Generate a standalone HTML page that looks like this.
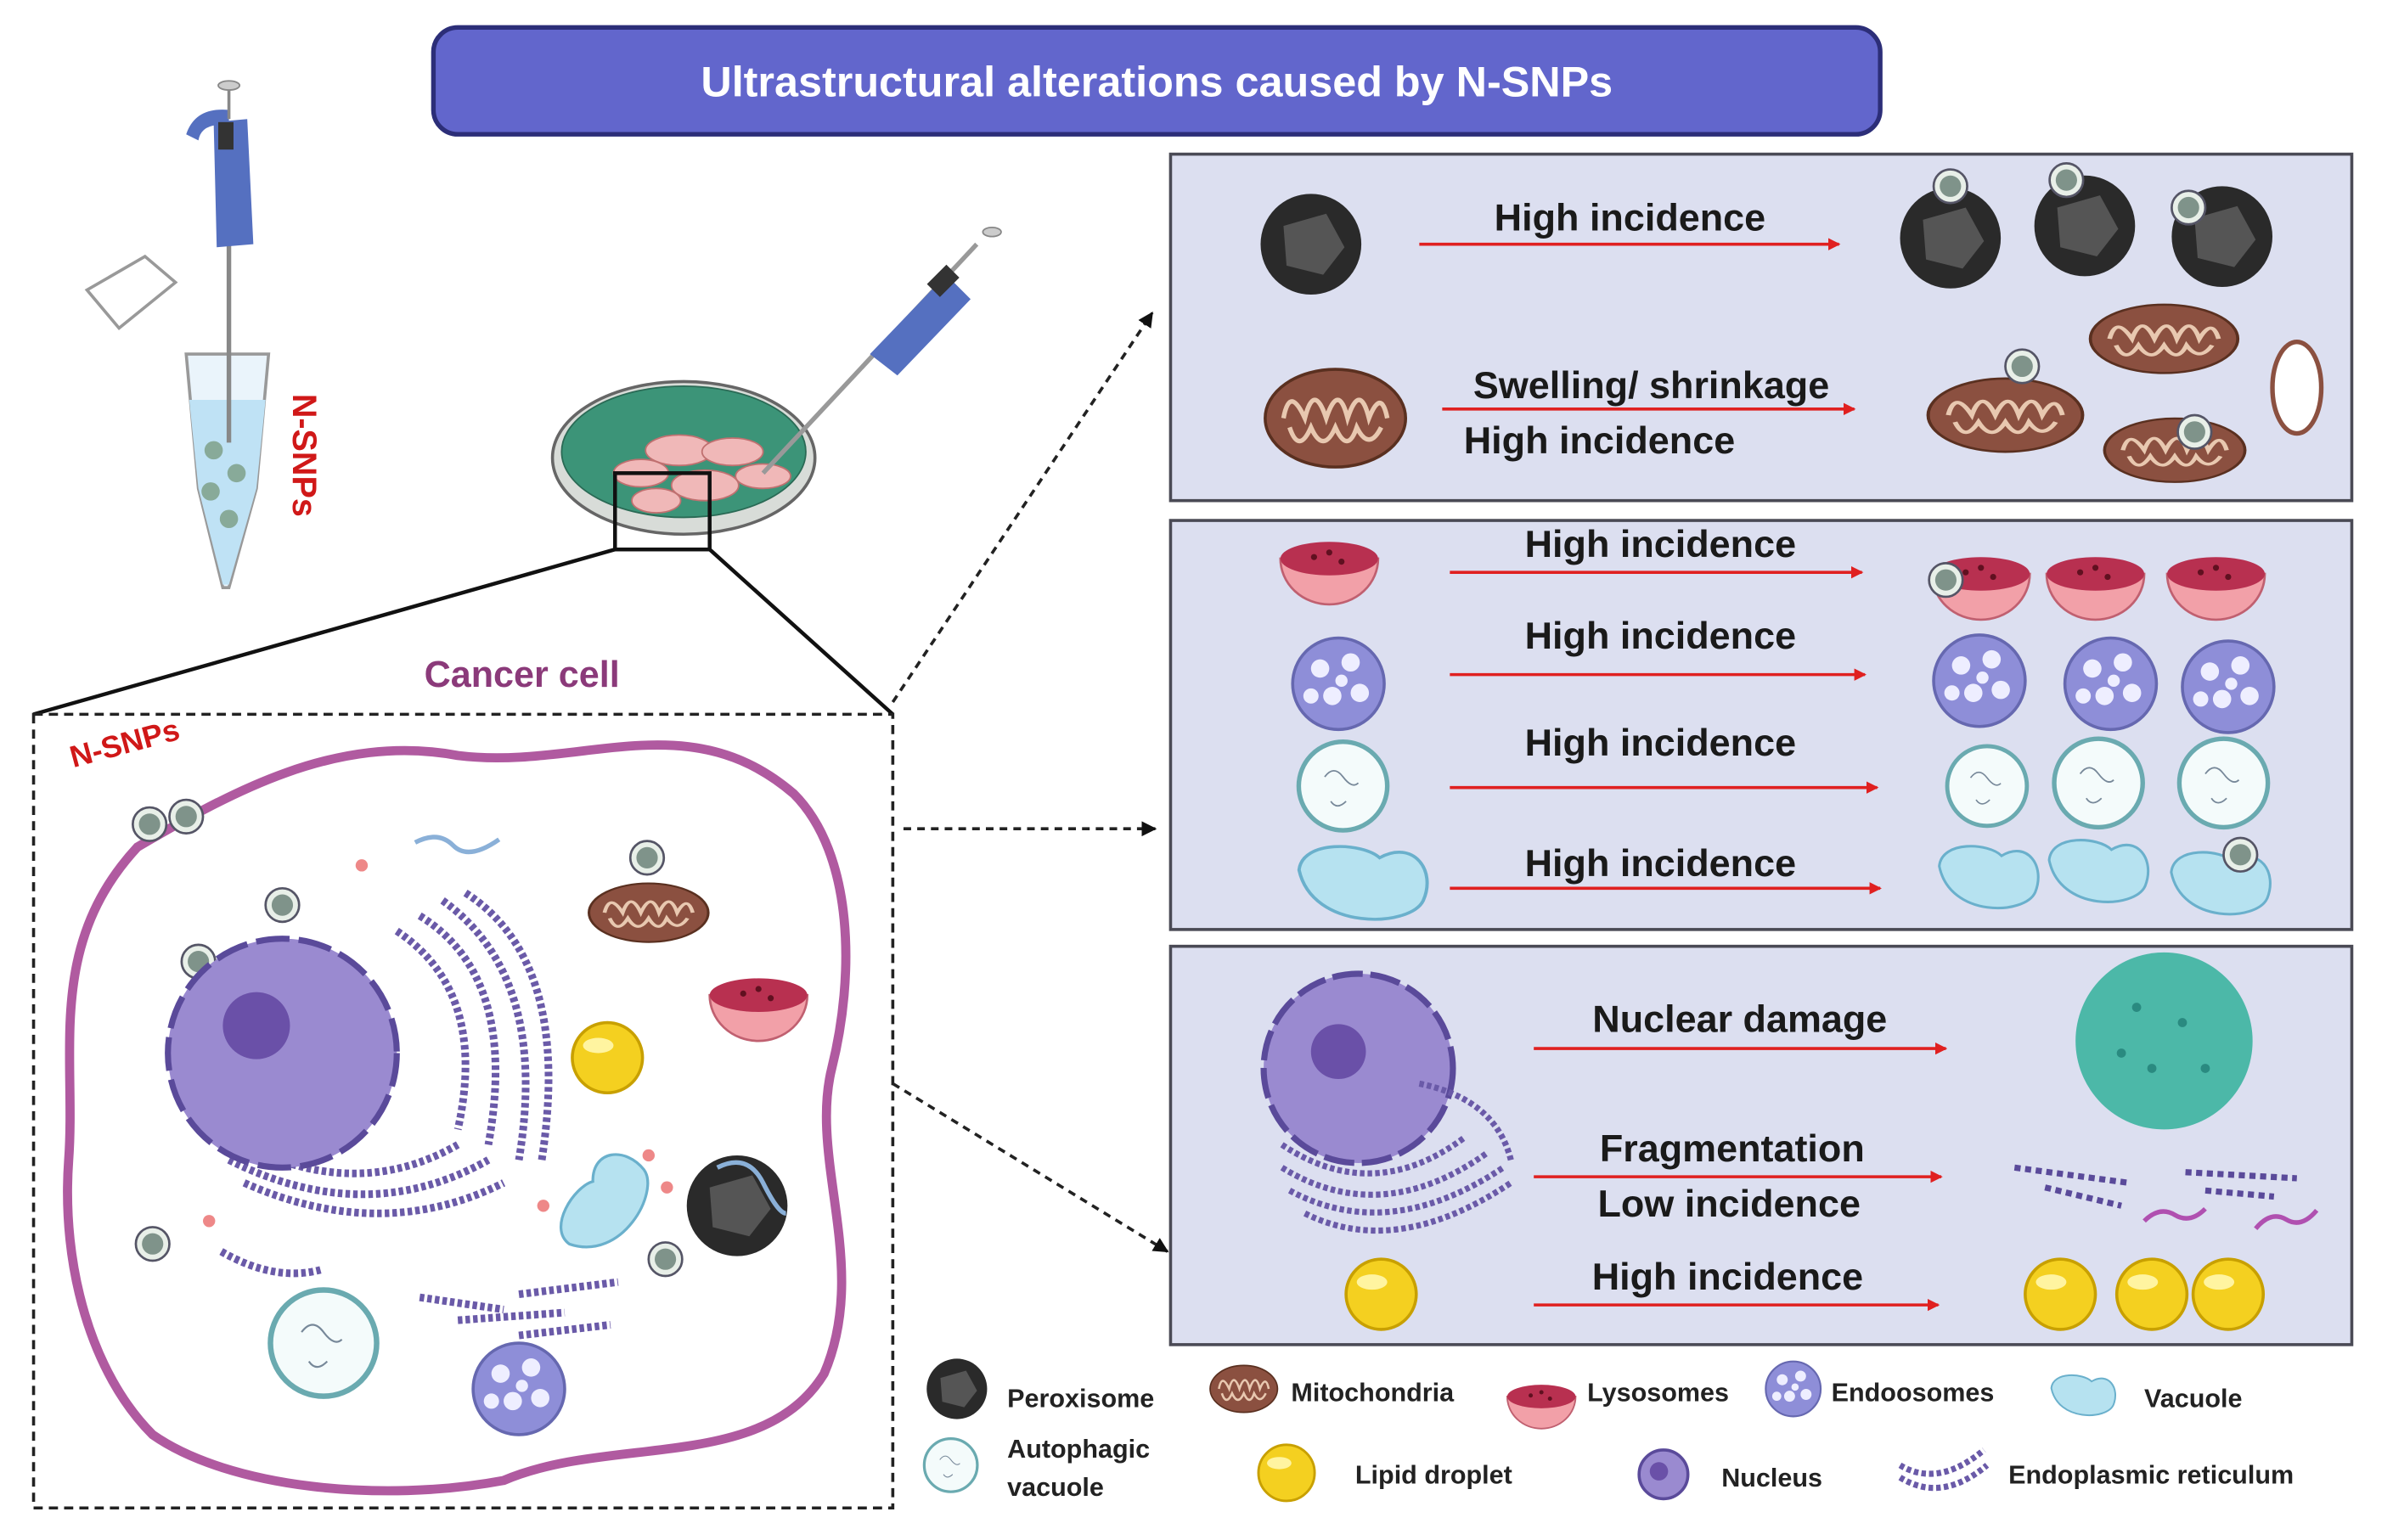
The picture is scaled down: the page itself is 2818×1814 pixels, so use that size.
<!DOCTYPE html>
<html><head><meta charset="utf-8"><style>
html,body{margin:0;padding:0;background:#fff;}
svg{display:block;}
text{font-family:"Liberation Sans",sans-serif;font-weight:bold;}
</style></head><body>
<svg width="2818" height="1814" viewBox="0 0 1568 1009" preserveAspectRatio="none" xmlns="http://www.w3.org/2000/svg">
<defs>
<marker id="ar" markerWidth="8" markerHeight="8" refX="7" refY="4" orient="auto" markerUnits="userSpaceOnUse"><path d="M0,0 L8,4 L0,8 z" fill="#e02020"/></marker>
<marker id="ak" markerWidth="10" markerHeight="10" refX="9" refY="5" orient="auto" markerUnits="userSpaceOnUse"><path d="M0,0 L10,5 L0,10 z" fill="#111"/></marker>
<g id="np"><circle r="11" fill="#e8efe8" stroke="#556" stroke-width="1.5"/><circle r="7" fill="#7f938a"/></g>
<g id="per"><circle r="33" fill="#2a2a2a"/><path d="M-18,-12 L10,-20 L22,2 L8,20 L-16,14 z" fill="#555"/></g>
<g id="mit"><ellipse rx="46" ry="32" fill="#8b5040" stroke="#5a3020" stroke-width="2"/><path d="M-34,0 Q-30,-22 -20,0 Q-14,-24 -6,0 Q2,-24 8,0 Q16,-24 22,0 Q30,-20 34,0 M-30,6 Q-24,24 -16,6 Q-8,24 0,6 Q8,24 14,6 Q22,22 30,6" fill="none" stroke="#e8c8b0" stroke-width="3"/></g>
<g id="lys"><path d="M-32,-10 A32,30 0 0 0 32,-10 z" fill="#f2a0a8" stroke="#c06070" stroke-width="1.5"/><ellipse cy="-10" rx="32" ry="11" fill="#b83050"/><circle cx="-10" cy="-11" r="2" fill="#601020"/><circle cx="8" cy="-8" r="2" fill="#601020"/><circle cx="0" cy="-14" r="2" fill="#601020"/></g>
<g id="end"><circle r="30" fill="#8e8ed8" stroke="#6668b0" stroke-width="2"/><circle cx="-12" cy="-10" r="6" fill="#eef"/><circle cx="8" cy="-14" r="6" fill="#eef"/><circle cx="14" cy="6" r="6" fill="#eef"/><circle cx="-4" cy="8" r="6" fill="#eef"/><circle cx="-18" cy="8" r="5" fill="#eef"/><circle cx="2" cy="-2" r="4" fill="#eef"/></g>
<g id="aut"><circle r="29" fill="#f4fbfb" stroke="#6aaab0" stroke-width="3"/><path d="M-12,-6 q6,-8 12,0 t10,4 M-8,10 q4,6 10,0" fill="none" stroke="#789" stroke-width="1"/></g>
<g id="vac"><path d="M-38,-10 C-36,-30 0,-28 10,-18 C30,-30 44,-10 36,10 C28,28 -30,30 -38,-10 z" fill="#b6e2f0" stroke="#6ab0cc" stroke-width="2"/></g>
<g id="lip"><circle r="23" fill="#f4d020" stroke="#c8a000" stroke-width="2"/><ellipse cx="-6" cy="-8" rx="10" ry="5" fill="#fff4a0"/></g>
</defs>

<rect x="284" y="18" width="948" height="70" rx="16" fill="#6266cc" stroke="#2c2e78" stroke-width="3"/>
<text x="758" y="63" font-size="28" fill="#fff" text-anchor="middle">Ultrastructural alterations caused by N-SNPs</text>

<rect x="767" y="101" width="774" height="227" fill="#dcdff0" stroke="#4a4a55" stroke-width="2"/>
<rect x="767" y="341" width="774" height="268" fill="#dcdff0" stroke="#4a4a55" stroke-width="2"/>
<rect x="767" y="620" width="774" height="261" fill="#dcdff0" stroke="#4a4a55" stroke-width="2"/>

<g font-size="25" fill="#1a1a1a" text-anchor="middle">
<text x="1068" y="151">High incidence</text>
<text x="1082" y="261">Swelling/ shrinkage</text>
<text x="1048" y="297">High incidence</text>
<text x="1088" y="365">High incidence</text>
<text x="1088" y="425">High incidence</text>
<text x="1088" y="495">High incidence</text>
<text x="1088" y="574">High incidence</text>
<text x="1140" y="676">Nuclear damage</text>
<text x="1135" y="761">Fragmentation</text>
<text x="1133" y="797">Low incidence</text>
<text x="1132" y="845">High incidence</text>
</g>
<g stroke="#e02020" stroke-width="2" marker-end="url(#ar)">
<line x1="930" y1="160" x2="1205" y2="160"/>
<line x1="945" y1="268" x2="1215" y2="268"/>
<line x1="950" y1="375" x2="1220" y2="375"/>
<line x1="950" y1="442" x2="1222" y2="442"/>
<line x1="950" y1="516" x2="1230" y2="516"/>
<line x1="950" y1="582" x2="1232" y2="582"/>
<line x1="1005" y1="687" x2="1275" y2="687"/>
<line x1="1005" y1="771" x2="1272" y2="771"/>
<line x1="1005" y1="855" x2="1270" y2="855"/>
</g>

<use href="#per" x="859" y="160"/>
<use href="#per" x="1278" y="156"/><use href="#np" x="1278" y="122"/>
<use href="#per" x="1366" y="148"/><use href="#np" x="1354" y="118"/>
<use href="#per" x="1456" y="155"/><use href="#np" x="1434" y="136"/>
<use href="#mit" x="875" y="274"/>
<use href="#mit" transform="translate(1314,272) scale(1.1,0.75)"/><use href="#np" x="1325" y="240"/>
<use href="#mit" transform="translate(1418,222) scale(1.05,0.7)"/>
<use href="#mit" transform="translate(1425,295) scale(1,0.65)"/><use href="#np" x="1438" y="283"/>
<ellipse cx="1505" cy="254" rx="16" ry="30" fill="#fff" stroke="#8b5040" stroke-width="3"/>

<use href="#lys" x="871" y="376"/>
<use href="#lys" x="1298" y="386"/><use href="#np" x="1275" y="380"/>
<use href="#lys" x="1373" y="386"/><use href="#lys" x="1452" y="386"/>
<use href="#end" x="877" y="448"/><use href="#end" x="1297" y="446"/><use href="#end" x="1383" y="448"/><use href="#end" x="1460" y="450"/>
<use href="#aut" x="880" y="515"/><use href="#aut" transform="translate(1302,515) scale(0.9)"/><use href="#aut" x="1375" y="513"/><use href="#aut" x="1457" y="513"/>
<use href="#vac" transform="translate(893,580) scale(1.1,1)"/><use href="#vac" transform="translate(1303,576) scale(0.85)"/><use href="#vac" transform="translate(1375,572) scale(0.85)"/><use href="#vac" transform="translate(1455,580) scale(0.85)"/><use href="#np" x="1468" y="560"/>

<circle cx="890" cy="700" r="62" fill="#9a8ad0" stroke="#5a4a9a" stroke-width="4" stroke-dasharray="20 5"/>
<circle cx="877" cy="689" r="18" fill="#6a50a8"/>
<g stroke="#6a5aa8" stroke-width="4" fill="none" stroke-dasharray="3 2"><path d="M840,750 Q900,790 960,745"/><path d="M840,765 Q905,805 975,755"/><path d="M845,780 Q910,815 985,765"/><path d="M855,795 Q915,825 990,775"/><path d="M930,710 Q980,720 990,760"/></g>
<circle cx="1418" cy="682" r="58" fill="#4cb8a8"/>
<g fill="#2a8a80"><circle cx="1400" cy="660" r="3"/><circle cx="1430" cy="670" r="3"/><circle cx="1410" cy="700" r="3"/><circle cx="1445" cy="700" r="3"/><circle cx="1390" cy="690" r="3"/></g>
<g stroke="#5a4a9a" stroke-width="4" stroke-dasharray="4 3"><line x1="1320" y1="765" x2="1395" y2="775"/><line x1="1340" y1="778" x2="1390" y2="790"/><line x1="1432" y1="768" x2="1505" y2="772"/><line x1="1445" y1="780" x2="1490" y2="784"/></g>
<path d="M1405,800 q10,-10 20,-4 t20,-4" stroke="#b050b0" stroke-width="3" fill="none"/>
<path d="M1478,805 q10,-12 20,-6 t20,-6" stroke="#b050b0" stroke-width="3" fill="none"/>
<use href="#lip" x="905" y="848"/><use href="#lip" x="1350" y="848"/><use href="#lip" x="1410" y="848"/><use href="#lip" x="1460" y="848"/>

<g font-size="17" fill="#222">
<use href="#per" transform="translate(627,910) scale(0.6)"/><text x="660" y="922">Peroxisome</text>
<use href="#mit" transform="translate(815,910) scale(0.48)"/><text x="846" y="918">Mitochondria</text>
<use href="#lys" transform="translate(1010,922) scale(0.7)"/><text x="1040" y="918">Lysosomes</text>
<use href="#end" transform="translate(1175,910) scale(0.6)"/><text x="1200" y="918">Endoosomes</text>
<use href="#vac" transform="translate(1365,915) scale(0.55)"/><text x="1405" y="922">Vacuole</text>
<use href="#aut" transform="translate(623,960) scale(0.6)"/><text x="660" y="955">Autophagic</text><text x="660" y="980">vacuole</text>
<use href="#lip" transform="translate(843,965) scale(0.8)"/><text x="888" y="972">Lipid droplet</text>
<circle cx="1090" cy="966" r="16" fill="#9a8ad0" stroke="#5a4a9a" stroke-width="2"/><circle cx="1087" cy="964" r="6" fill="#6a50a8"/><text x="1128" y="974">Nucleus</text>
<path d="M1245,960 Q1270,975 1300,950 M1245,968 Q1272,985 1302,960" stroke="#6a5aa8" stroke-width="4" fill="none" stroke-dasharray="3 2"/><text x="1316" y="972">Endoplasmic reticulum</text>
</g>

<path d="M57,190 L95,168 L115,185 L78,215 z" fill="#fff" stroke="#999" stroke-width="2"/>
<path d="M122,232 L176,232 L168,320 L150,385 L146,385 L130,320 z" fill="#eaf4fb" stroke="#999" stroke-width="2"/>
<path d="M124,262 L174,262 L168,320 L150,383 L146,383 L130,320 z" fill="#bfe2f5"/>
<circle cx="140" cy="295" r="6" fill="#8a9"/><circle cx="155" cy="310" r="6" fill="#8a9"/><circle cx="138" cy="322" r="6" fill="#8a9"/><circle cx="150" cy="340" r="6" fill="#8a9"/>
<line x1="150" y1="160" x2="150" y2="290" stroke="#888" stroke-width="3"/>
<path d="M140,80 L162,78 L166,160 L142,162 z" fill="#5570c0"/>
<path d="M122,88 Q128,70 150,72 L150,82 Q132,80 130,92 z" fill="#5570c0"/>
<rect x="143" y="80" width="10" height="18" fill="#333"/>
<line x1="150" y1="55" x2="150" y2="78" stroke="#888" stroke-width="2"/><ellipse cx="150" cy="56" rx="7" ry="3" fill="#ccc" stroke="#888"/>
<text transform="translate(192,258) rotate(90)" font-size="22" fill="#d01818">N-SNPs</text>

<ellipse cx="448" cy="300" rx="86" ry="50" fill="#d8dcd8" stroke="#666" stroke-width="2"/>
<ellipse cx="448" cy="296" rx="80" ry="43" fill="#3c9478" stroke="#2a6a55" stroke-width="1"/>
<g fill="#f0b8b8" stroke="#c07070"><ellipse cx="445" cy="295" rx="22" ry="10"/><ellipse cx="480" cy="296" rx="20" ry="9"/><ellipse cx="420" cy="310" rx="18" ry="9"/><ellipse cx="462" cy="318" rx="22" ry="10"/><ellipse cx="500" cy="312" rx="18" ry="8"/><ellipse cx="430" cy="328" rx="16" ry="8"/></g>
<rect x="403" y="310" width="62" height="50" fill="none" stroke="#111" stroke-width="2.5"/>
<line x1="500" y1="310" x2="640" y2="160" stroke="#999" stroke-width="3"/>
<path d="M570,232 L620,180 L636,196 L588,246 z" fill="#5570c0"/>
<rect x="612" y="175" width="12" height="18" fill="#333" transform="rotate(45 618 184)"/>
<ellipse cx="650" cy="152" rx="6" ry="3" fill="#ccc" stroke="#888"/>

<line x1="403" y1="360" x2="22" y2="468" stroke="#111" stroke-width="2.5"/>
<line x1="465" y1="360" x2="585" y2="468" stroke="#111" stroke-width="2.5"/>
<rect x="22" y="468" width="563" height="520" fill="none" stroke="#222" stroke-width="2" stroke-dasharray="6 4"/>
<text x="342" y="450" font-size="24" fill="#8b3a7a" text-anchor="middle">Cancer cell</text>

<g stroke="#222" stroke-width="2" stroke-dasharray="5 4" marker-end="url(#ak)">
<line x1="585" y1="460" x2="755" y2="205"/>
<line x1="592" y1="543" x2="757" y2="543"/>
<line x1="585" y1="710" x2="765" y2="820"/>
</g>

<path d="M90,555 C150,520 220,480 300,495 C380,505 450,460 520,520 C560,560 560,640 545,700 C530,760 570,830 540,900 C500,965 400,940 330,970 C250,985 150,975 100,940 C60,900 40,830 45,760 C50,690 30,620 90,555 z" fill="#fff" stroke="#b05aa0" stroke-width="6"/>
<text x="48" y="503" font-size="20" fill="#d01818" transform="rotate(-15 48 503)">N-SNPs</text>
<use href="#np" x="98" y="540"/><use href="#np" x="122" y="535"/>
<use href="#np" x="185" y="593"/><use href="#np" x="130" y="630"/><use href="#np" x="100" y="815"/><use href="#np" x="436" y="825"/>
<circle cx="237" cy="567" r="4" fill="#e88"/><circle cx="137" cy="800" r="4" fill="#e88"/><circle cx="425" cy="757" r="4" fill="#e88"/><circle cx="437" cy="778" r="4" fill="#e88"/><circle cx="356" cy="790" r="4" fill="#e88"/>
<path d="M272,552 q15,-8 25,2 t30,-4" stroke="#8ab0d8" stroke-width="3" fill="none"/>
<use href="#mit" transform="translate(425,598) scale(0.85,0.6)"/><use href="#np" x="424" y="562"/>
<use href="#lys" x="497" y="662"/>
<use href="#lip" x="398" y="693"/>
<g stroke="#6a5aa8" stroke-width="5" fill="none" stroke-dasharray="3 2">
<path d="M150,745 Q230,790 300,750"/><path d="M150,760 Q240,805 320,760"/><path d="M160,775 Q250,815 330,775"/>
<path d="M260,610 Q320,650 300,740"/><path d="M275,600 Q340,640 320,750"/><path d="M290,590 Q360,640 340,760"/><path d="M305,585 Q375,630 355,760"/>
<path d="M145,820 Q180,840 210,832"/>
<path d="M275,850 L330,858 M300,865 L370,860 M340,848 L405,840 M340,875 L400,868"/>
</g>
<circle cx="185" cy="690" r="75" fill="#9a8ad0" stroke="#5a4a9a" stroke-width="4" stroke-dasharray="22 6"/>
<circle cx="168" cy="672" r="22" fill="#6a50a8"/>
<use href="#vac" transform="translate(398,790) rotate(-60) scale(0.9)"/>
<use href="#per" x="483" y="790"/>
<path d="M470,765 q20,-10 30,10 t15,20" stroke="#8ab0d8" stroke-width="3" fill="none"/>
<use href="#aut" transform="translate(212,880) scale(1.2)"/>
<use href="#end" x="340" y="910"/>
</svg>
</body></html>
